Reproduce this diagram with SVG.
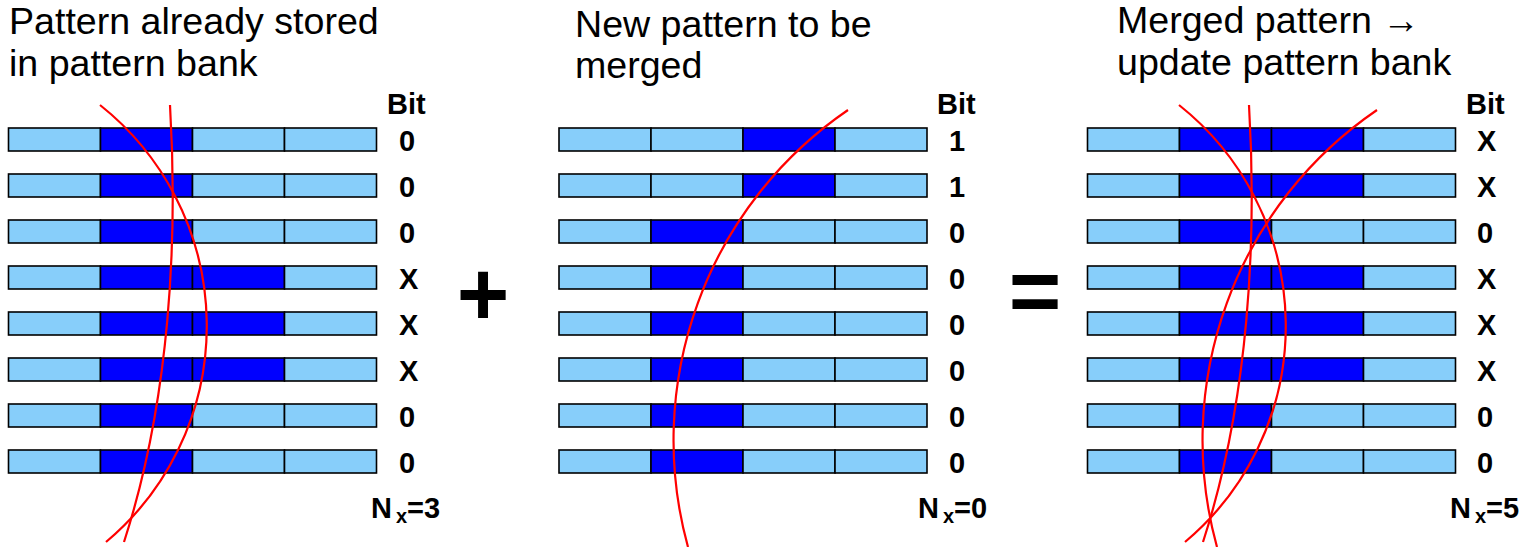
<svg xmlns="http://www.w3.org/2000/svg" xmlns:xlink="http://www.w3.org/1999/xlink" width="1537" height="547" viewBox="0 0 1537 547">
<style>
.lt{fill:#87CEFA;stroke:#000;stroke-width:1.6}
.dk{fill:#0000FF;stroke:#000;stroke-width:1.6}
.title{font-family:"Liberation Sans",Arial,sans-serif;font-size:37.6px;fill:#000}
.bit{font-family:"Liberation Sans",Arial,sans-serif;font-size:29px;font-weight:bold;fill:#000}
.sub{font-size:20px}
.op{font-family:"Liberation Sans",Arial,sans-serif;font-size:90px;font-weight:bold;fill:#000;text-anchor:middle}
.curve{fill:none;stroke:#FF0000;stroke-width:2.2}
</style>
<defs>
<g id="rowA"><rect class="lt" x="0" y="0" width="92" height="23"/><rect class="dk" x="92" y="0" width="92" height="23"/><rect class="lt" x="184" y="0" width="92" height="23"/><rect class="lt" x="276" y="0" width="92" height="23"/></g>
<g id="rowB"><rect class="lt" x="0" y="0" width="92" height="23"/><rect class="dk" x="92" y="0" width="92" height="23"/><rect class="dk" x="184" y="0" width="92" height="23"/><rect class="lt" x="276" y="0" width="92" height="23"/></g>
<g id="rowC"><rect class="lt" x="0" y="0" width="92" height="23"/><rect class="lt" x="92" y="0" width="92" height="23"/><rect class="dk" x="184" y="0" width="92" height="23"/><rect class="lt" x="276" y="0" width="92" height="23"/></g>
</defs>
<rect x="0" y="0" width="1537" height="547" fill="#fff"/>

<g id="panel-stored">
<text class="title" x="9" y="34">Pattern already stored</text>
<text class="title" x="9" y="76">in pattern bank</text>
<use xlink:href="#rowA" x="8.5" y="128"/>
<use xlink:href="#rowA" x="8.5" y="174"/>
<use xlink:href="#rowA" x="8.5" y="220"/>
<use xlink:href="#rowB" x="8.5" y="266"/>
<use xlink:href="#rowB" x="8.5" y="312"/>
<use xlink:href="#rowB" x="8.5" y="358"/>
<use xlink:href="#rowA" x="8.5" y="404"/>
<use xlink:href="#rowA" x="8.5" y="450"/>
<text class="bit" x="387" y="114">Bit</text>
<text class="bit" x="399" y="151">0</text>
<text class="bit" x="399" y="197">0</text>
<text class="bit" x="399" y="243">0</text>
<text class="bit" x="399" y="289">X</text>
<text class="bit" x="399" y="335">X</text>
<text class="bit" x="399" y="381">X</text>
<text class="bit" x="399" y="427">0</text>
<text class="bit" x="399" y="473">0</text>
<text class="bit" x="371" y="518">N<tspan class="sub" dx="4" dy="5">x</tspan><tspan dy="-5">=3</tspan></text>
</g>

<g id="plus"><text class="op" x="483" y="325">+</text></g>

<g id="panel-new">
<text class="title" x="575" y="37">New pattern to be</text>
<text class="title" x="575" y="78">merged</text>
<use xlink:href="#rowC" x="559" y="128"/>
<use xlink:href="#rowC" x="559" y="174"/>
<use xlink:href="#rowA" x="559" y="220"/>
<use xlink:href="#rowA" x="559" y="266"/>
<use xlink:href="#rowA" x="559" y="312"/>
<use xlink:href="#rowA" x="559" y="358"/>
<use xlink:href="#rowA" x="559" y="404"/>
<use xlink:href="#rowA" x="559" y="450"/>
<text class="bit" x="937" y="114">Bit</text>
<text class="bit" x="949" y="151">1</text>
<text class="bit" x="949" y="197">1</text>
<text class="bit" x="949" y="243">0</text>
<text class="bit" x="949" y="289">0</text>
<text class="bit" x="949" y="335">0</text>
<text class="bit" x="949" y="381">0</text>
<text class="bit" x="949" y="427">0</text>
<text class="bit" x="949" y="473">0</text>
<text class="bit" x="918" y="518">N<tspan class="sub" dx="4" dy="5">x</tspan><tspan dy="-5">=0</tspan></text>
</g>

<g id="equals"><text class="op" x="1035" y="322">=</text></g>

<g id="panel-merged">
<text class="title" x="1117" y="33">Merged pattern →</text>
<text class="title" x="1117" y="75">update pattern bank</text>
<use xlink:href="#rowB" x="1087.5" y="128"/>
<use xlink:href="#rowB" x="1087.5" y="174"/>
<use xlink:href="#rowA" x="1087.5" y="220"/>
<use xlink:href="#rowB" x="1087.5" y="266"/>
<use xlink:href="#rowB" x="1087.5" y="312"/>
<use xlink:href="#rowB" x="1087.5" y="358"/>
<use xlink:href="#rowA" x="1087.5" y="404"/>
<use xlink:href="#rowA" x="1087.5" y="450"/>
<text class="bit" x="1466" y="114">Bit</text>
<text class="bit" x="1477" y="151">X</text>
<text class="bit" x="1477" y="197">X</text>
<text class="bit" x="1477" y="243">0</text>
<text class="bit" x="1477" y="289">X</text>
<text class="bit" x="1477" y="335">X</text>
<text class="bit" x="1477" y="381">X</text>
<text class="bit" x="1477" y="427">0</text>
<text class="bit" x="1477" y="473">0</text>
<text class="bit" x="1450" y="518">N<tspan class="sub" dx="4" dy="5">x</tspan><tspan dy="-5">=5</tspan></text>
</g>

<g id="connectors">
<path class="curve" d="M100,105 A282,282 0 0 1 106,542"/>
<path class="curve" d="M170,105 C178,240 170,400 124,542"/>
<path class="curve" d="M848,110 A400,400 0 0 0 688,547"/>
<path class="curve" d="M1179,105 A282,282 0 0 1 1185,542"/>
<path class="curve" d="M1249,105 C1257,240 1249,400 1203,542"/>
<path class="curve" d="M1377,110 A400,400 0 0 0 1217,547"/>
</g>
</svg>
